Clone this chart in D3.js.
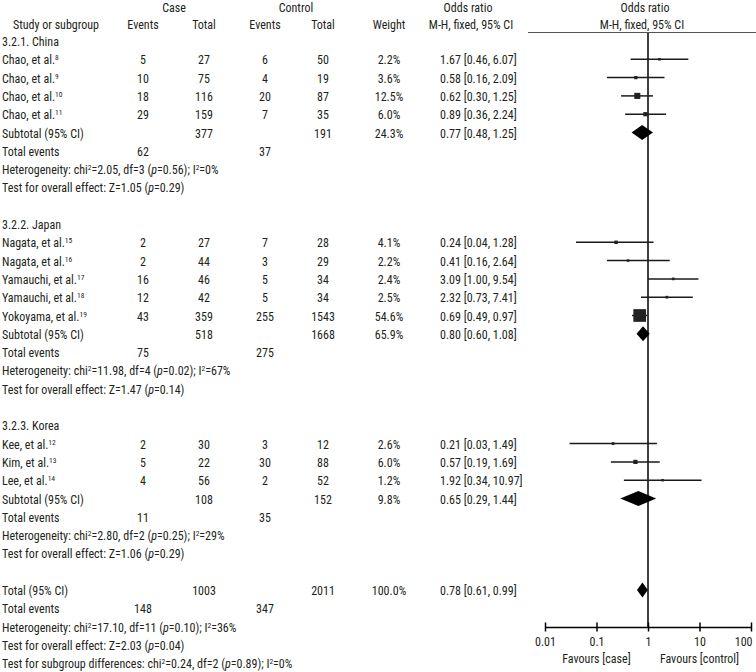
<!DOCTYPE html>
<html><head><meta charset="utf-8">
<script src="https://cdn.jsdelivr.net/npm/d3@7"></script>
<style>
body{margin:0;background:#fff;}
svg text{font-family:"Liberation Sans Narrow","Arial Narrow","Roboto Condensed","DejaVu Sans Condensed",sans-serif;font-size:12px;fill:#231f20;}
</style></head><body><svg id="c" width="756" height="672"></svg>
<script>
// ---------- DATA ----------
const groupNames = ["3.2.1. China", "3.2.2. Japan", "3.2.3. Korea"];
const studyNames = ["Chao, et al.", "Chao, et al.", "Chao, et al.", "Chao, et al.",
  "Nagata, et al.", "Nagata, et al.", "Yamauchi, et al.", "Yamauchi, et al.", "Yokoyama, et al.",
  "Kee, et al.", "Kim, et al.", "Lee, et al."];
const studyRefs = ["8", "9", "10", "11", "15", "16", "17", "18", "19", "12", "13", "14"];
const studyGroup = [0, 0, 0, 0, 1, 1, 1, 1, 1, 2, 2, 2];
const caseEvents = [5, 10, 18, 29, 2, 2, 16, 12, 43, 2, 5, 4];
const caseTotals = [27, 75, 116, 159, 27, 44, 46, 42, 359, 30, 22, 56];
const ctrlEvents = [6, 4, 20, 7, 7, 3, 5, 5, 255, 3, 30, 2];
const ctrlTotals = [50, 19, 87, 35, 28, 29, 34, 34, 1543, 12, 88, 52];
const weights = [2.2, 3.6, 12.5, 6.0, 4.1, 2.2, 2.4, 2.5, 54.6, 2.6, 6.0, 1.2];
const orEst = [1.67, 0.58, 0.62, 0.89, 0.24, 0.41, 3.09, 2.32, 0.69, 0.21, 0.57, 1.92];
const orLow = [0.46, 0.16, 0.30, 0.36, 0.04, 0.16, 1.00, 0.73, 0.49, 0.03, 0.19, 0.34];
const orHigh = [6.07, 2.09, 1.25, 2.24, 1.28, 2.64, 9.54, 7.41, 0.97, 1.49, 1.69, 10.97];

const subCaseTotals = [377, 518, 108];
const subCtrlTotals = [191, 1668, 152];
const subWeights = [24.3, 65.9, 9.8];
const subOr = [0.77, 0.80, 0.65];
const subLow = [0.48, 0.60, 0.29];
const subHigh = [1.25, 1.08, 1.44];
const subCaseEvents = [62, 75, 11];
const subCtrlEvents = [37, 275, 35];
const subChi = [2.05, 11.98, 2.80];
const subDf = [3, 4, 2];
const subHetP = [0.56, 0.02, 0.25];
const subI2 = [0, 67, 29];
const subZ = [1.05, 1.47, 1.06];
const subZP = [0.29, 0.14, 0.29];

const totalCase = 1003, totalCtrl = 2011, totalWeight = 100.0;
const totalOr = [0.78, 0.61, 0.99];
const totalEvents = [148, 347];
const totalHet = [17.10, 11, 0.10, 36];     // chi2, df, p, I2
const totalZ = [2.03, 0.04];                // Z, p
const subgroupDiff = [0.24, 2, 0.89, 0];    // chi2, df, p, I2

const tickValues = [0.01, 0.1, 1, 10, 100];
const tickLabels = ["0.01", "0.1", "1", "10", "100"];

// ---------- LAYOUT ----------
const svg = d3.select("#c");
const x = d3.scaleLog().domain([0.01, 100]).range([545, 751]);
const y = d3.scaleLinear().domain([0, 34]).range([41, 41 + 34 * 18.3]);
const col = {name: 2, ce: 143, ct: 204, xe: 265, xt: 323, w: 389, ci: 440};
const axisY = 627;
const f2 = d3.format(".2f"), f1 = d3.format(".1f");
const ciText = (o, l, h) => `${f2(o)} [${f2(l)}, ${f2(h)}]`;

function txt(xp, yp, anchor) {
  return svg.append("text").attr("x", xp).attr("y", yp).attr("text-anchor", anchor || "start");
}
function rich(sel, segs) {
  let up = false;
  segs.forEach(([t, s]) => {
    const ts = sel.append("tspan").text(t);
    if (s === "s") { ts.attr("font-size", 7.5).attr("dy", up ? 0 : -4); up = true; }
    else {
      if (up) { ts.attr("dy", 4); up = false; }
      if (s === "i") ts.attr("font-style", "italic");
    }
  });
  return sel;
}
const base = r => y(r) + 5;

// headers
txt(174, 12, "middle").text("Case");
txt(296, 12, "middle").text("Control");
txt(56, 29, "middle").text("Study or subgroup");
txt(col.ce, 29, "middle").text("Events");
txt(col.ct, 29, "middle").text("Total");
txt(col.xe, 29, "middle").text("Events");
txt(col.xt, 29, "middle").text("Total");
txt(col.w, 29, "middle").text("Weight");
txt(468, 12, "middle").text("Odds ratio");
txt(471, 29, "middle").text("M-H, fixed, 95% CI");
txt(645, 12, "middle").text("Odds ratio");
txt(642, 29, "middle").text("M-H, fixed, 95% CI");
svg.append("line").attr("x1", 528).attr("x2", 756).attr("y1", 32.5).attr("y2", 32.5)
  .attr("stroke", "#555").attr("stroke-width", 1);

// rows
let r = 0;
const studyRows = [], subRows = [];
groupNames.forEach((g, gi) => {
  txt(col.name, base(r)).text(g); r++;
  studyGroup.forEach((sg, si) => {
    if (sg !== gi) return;
    rich(txt(col.name, base(r)), [[studyNames[si]], [studyRefs[si], "s"]]);
    txt(col.ce, base(r), "middle").text(caseEvents[si]);
    txt(col.ct, base(r), "middle").text(caseTotals[si]);
    txt(col.xe, base(r), "middle").text(ctrlEvents[si]);
    txt(col.xt, base(r), "middle").text(ctrlTotals[si]);
    txt(col.w, base(r), "middle").text(f1(weights[si]) + "%");
    txt(col.ci, base(r)).text(ciText(orEst[si], orLow[si], orHigh[si]));
    studyRows.push({si, r}); r++;
  });
  txt(col.name, base(r)).text("Subtotal (95% CI)");
  txt(col.ct, base(r), "middle").text(subCaseTotals[gi]);
  txt(col.xt, base(r), "middle").text(subCtrlTotals[gi]);
  txt(col.w, base(r), "middle").text(f1(subWeights[gi]) + "%");
  txt(col.ci, base(r)).text(ciText(subOr[gi], subLow[gi], subHigh[gi]));
  subRows.push({o: subOr[gi], l: subLow[gi], h: subHigh[gi], r}); r++;
  txt(col.name, base(r)).text("Total events");
  txt(col.ce, base(r), "middle").text(subCaseEvents[gi]);
  txt(col.xe, base(r), "middle").text(subCtrlEvents[gi]); r++;
  rich(txt(col.name, base(r)), [["Heterogeneity: chi"], ["2", "s"],
    [`=${f2(subChi[gi])}, df=${subDf[gi]} (`], ["p", "i"], [`=${f2(subHetP[gi])}); I`], ["2", "s"], [`=${subI2[gi]}%`]]); r++;
  rich(txt(col.name, base(r)), [[`Test for overall effect: Z=${f2(subZ[gi])} (`], ["p", "i"], [`=${f2(subZP[gi])})`]]); r++;
  r++;
});
// total
txt(col.name, base(r)).text("Total (95% CI)");
txt(col.ct, base(r), "middle").text(totalCase);
txt(col.xt, base(r), "middle").text(totalCtrl);
txt(col.w, base(r), "middle").text(f1(totalWeight) + "%");
txt(col.ci, base(r)).text(ciText(...totalOr));
subRows.push({o: totalOr[0], l: totalOr[1], h: totalOr[2], r}); r++;
txt(col.name, base(r)).text("Total events");
txt(col.ce, base(r), "middle").text(totalEvents[0]);
txt(col.xe, base(r), "middle").text(totalEvents[1]); r++;
rich(txt(col.name, base(r)), [["Heterogeneity: chi"], ["2", "s"],
  [`=${f2(totalHet[0])}, df=${totalHet[1]} (`], ["p", "i"], [`=${f2(totalHet[2])}); I`], ["2", "s"], [`=${totalHet[3]}%`]]); r++;
rich(txt(col.name, base(r)), [[`Test for overall effect: Z=${f2(totalZ[0])} (`], ["p", "i"], [`=${f2(totalZ[1])})`]]); r++;
rich(txt(col.name, base(r)), [["Test for subgroup differences: chi"], ["2", "s"],
  [`=${f2(subgroupDiff[0])}, df=${subgroupDiff[1]} (`], ["p", "i"], [`=${f2(subgroupDiff[2])}); I`], ["2", "s"], [`=${subgroupDiff[3]}%`]]);

// plot: null line
svg.append("line").attr("x1", x(1)).attr("x2", x(1)).attr("y1", 33).attr("y2", axisY)
  .attr("stroke", "#000").attr("stroke-width", 1.5);

// study CIs and squares
const g = svg.append("g");
g.selectAll("line.ci").data(studyRows).join("line").attr("class", "ci")
  .attr("x1", d => x(orLow[d.si])).attr("x2", d => x(orHigh[d.si]))
  .attr("y1", d => y(d.r)).attr("y2", d => y(d.r))
  .attr("stroke", "#1a1a1a").attr("stroke-width", 1.5);
g.selectAll("rect.pt").data(studyRows).join("rect").attr("class", "pt")
  .each(function (d) {
    const s = Math.max(2.5, 1.72 * Math.sqrt(weights[d.si]));
    d3.select(this).attr("x", x(orEst[d.si]) - s / 2).attr("y", y(d.r) - s / 2)
      .attr("width", s).attr("height", s);
  }).attr("fill", "#222");

// diamonds
g.selectAll("path.dm").data(subRows).join("path").attr("class", "dm")
  .attr("d", d => {
    const yc = y(d.r), hh = 7.5;
    return `M${x(d.l)},${yc}L${x(d.o)},${yc - hh}L${x(d.h)},${yc}L${x(d.o)},${yc + hh}Z`;
  }).attr("fill", "#000");

// axis
const axis = d3.axisBottom(x).tickValues(tickValues).tickFormat((d, i) => tickLabels[i])
  .tickSizeInner(5).tickSizeOuter(0).tickPadding(6);
const ax = svg.append("g").attr("transform", `translate(0,${axisY})`).call(axis);
ax.select(".domain").attr("stroke", "#000").attr("stroke-width", 1.5);
ax.selectAll(".tick line").attr("stroke", "#000").attr("stroke-width", 1.5).attr("y1", -4.5).attr("y2", 4.5);
ax.selectAll(".tick text").attr("fill", "#231f20").style("font-size", "12px").attr("y", 10)
  .filter((d, i) => i === tickLabels.length - 1).attr("text-anchor", "end").attr("x", 1);
ax.attr("font-family", null).attr("font-size", null);

txt(x(0.1), 663, "middle").text("Favours [case]");
txt(x(10), 663, "middle").text("Favours [control]");
</script></body></html>
